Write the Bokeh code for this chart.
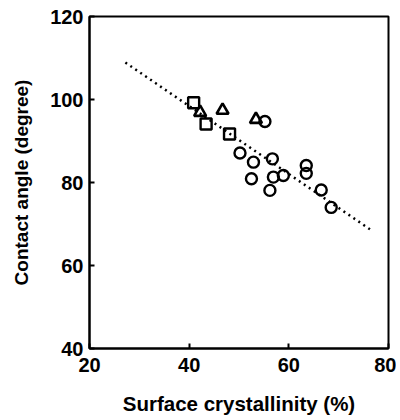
from bokeh.plotting import figure
from bokeh.models import FixedTicker, Range1d
from bokeh.embed import file_html
from bokeh.resources import INLINE

# Data
square_x = [40.9, 43.4, 48.1]
square_y = [99.2, 94.1, 91.7]
triangle_x = [42.2, 46.7, 53.4]
triangle_y = [96.9, 97.4, 95.2]
circle_x = [55.2, 50.2, 52.9, 56.7, 52.5, 56.9, 58.9, 56.2, 63.5, 63.5, 66.5, 68.5]
circle_y = [94.7, 87.1, 84.9, 85.7, 80.9, 81.3, 81.7, 78.1, 84.1, 82.2, 78.2, 74.0]
trend_x = [27.2, 76.8]
trend_y = [108.9, 68.3]
x_ticks = [20, 40, 60, 80]
y_ticks = [40, 60, 80, 100, 120]

FONT = "Liberation Sans"

p = figure(width=396, height=418, output_backend="svg", toolbar_location=None,
           x_range=Range1d(20, 80), y_range=Range1d(40, 120),
           min_border_left=89, min_border_right=8, min_border_top=16, min_border_bottom=70)

p.line(trend_x, trend_y, line_color="black", line_width=2.5, line_dash="2 4")
p.scatter(square_x, square_y, marker="square", size=11, fill_color=None,
          line_color="black", line_width=2.4)
p.scatter(triangle_x, triangle_y, marker="triangle", size=12, fill_color=None,
          line_color="black", line_width=2.6)
p.scatter(circle_x, circle_y, marker="circle", size=11, fill_color=None,
          line_color="black", line_width=2.4)

p.xgrid.visible = False
p.ygrid.visible = False
p.outline_line_color = "black"
p.outline_line_width = 2
p.outline_line_alpha = 1

p.xaxis.ticker = FixedTicker(ticks=x_ticks)
p.yaxis.ticker = FixedTicker(ticks=y_ticks)
for ax in (p.xaxis[0], p.yaxis[0]):
    ax.axis_line_width = 2
    ax.axis_line_color = "black"
    ax.major_tick_in = 5
    ax.major_tick_out = 0
    ax.major_tick_line_width = 2
    ax.minor_tick_line_color = None
    ax.major_label_text_font = FONT
    ax.major_label_text_font_style = "bold"
    ax.major_label_text_font_size = "20px"
    ax.major_label_text_color = "black"
    ax.axis_label_text_font = FONT
    ax.axis_label_text_font_style = "bold"
    ax.axis_label_text_color = "black"

p.xaxis.axis_label_text_font_size = "20.5px"
p.yaxis.axis_label_text_font_size = "19px"
p.xaxis.axis_label = "Surface crystallinity (%)"
p.yaxis.axis_label = "Contact angle (degree)"
p.xaxis.major_label_standoff = 9
p.yaxis.major_label_standoff = 6
p.xaxis.axis_label_standoff = 17
p.yaxis.axis_label_standoff = 15

open("out.html", "w").write(file_html(p, INLINE))
